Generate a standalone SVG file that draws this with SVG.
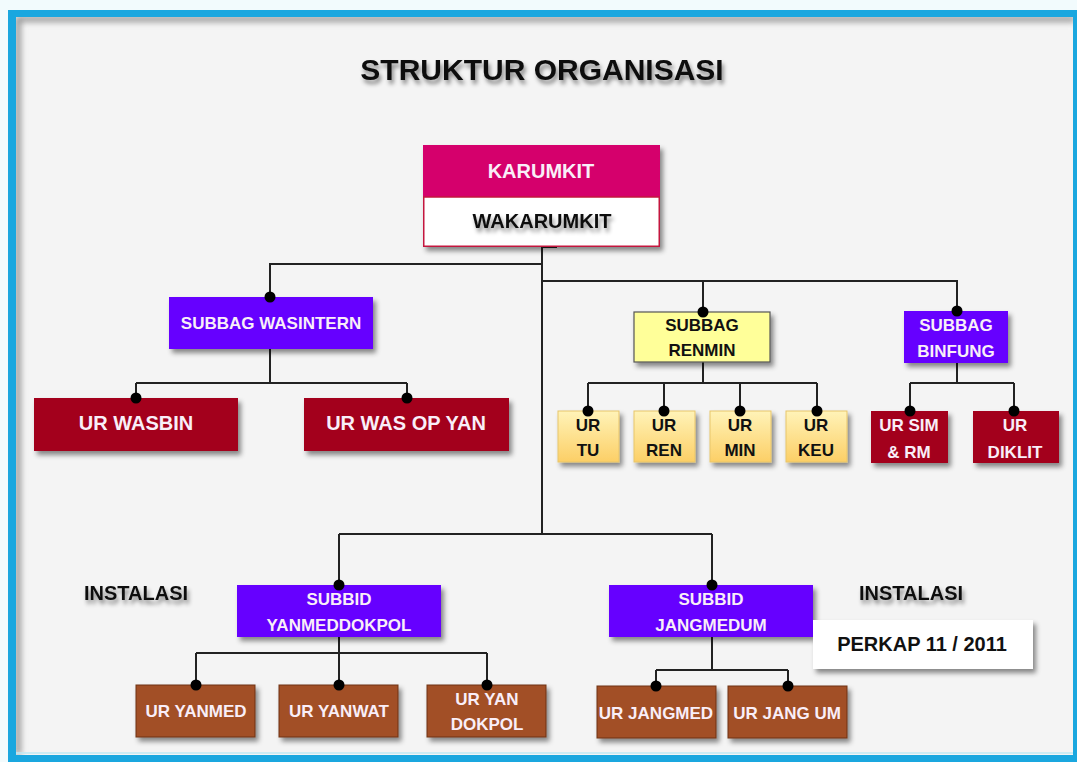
<svg xmlns="http://www.w3.org/2000/svg" width="1077" height="762" viewBox="0 0 1077 762">
<style>
text{font-family:"Liberation Sans",Arial,sans-serif;font-weight:bold;text-anchor:middle}
.w{fill:#f9eef8}
.k{fill:#111}
.purple{fill:#6600ff}
.crim{fill:#a3001f}
.brown{fill:#a24f25;stroke:#6e3416;stroke-width:1}
.ur{fill:url(#gy);stroke:#e8c56a;stroke-width:1}
.conn{stroke:#222;stroke-width:2;fill:none}
.dot{fill:#000}
.f17{font-size:17px}
.f20{font-size:20px}
</style>
<defs>
<filter id="sh" x="-10%" y="-10%" width="130%" height="140%">
<feDropShadow dx="3" dy="4" stdDeviation="2.5" flood-color="#000" flood-opacity="0.45"/>
</filter>
<filter id="ts" x="-10%" y="-30%" width="130%" height="180%">
<feDropShadow dx="2" dy="4" stdDeviation="2" flood-color="#000" flood-opacity="0.45"/>
</filter>
<filter id="ib" x="-5%" y="-5%" width="110%" height="110%">
<feGaussianBlur stdDeviation="3"/>
</filter>
<linearGradient id="gy" x1="0" y1="0" x2="0" y2="1">
<stop offset="0" stop-color="#fff3b8"/>
<stop offset="1" stop-color="#fccf66"/>
</linearGradient>
<clipPath id="inner"><rect x="16" y="17" width="1057" height="738"/></clipPath>
</defs>

<rect x="0" y="0" width="1077" height="762" fill="#f2fbfd"/>
<rect x="8" y="10" width="1069" height="752" fill="#1aa7df"/>
<rect x="16" y="17" width="1057" height="738" fill="#f4f4f4"/>
<g clip-path="url(#inner)">
<path d="M18,755 V19 H1075" stroke="#888" stroke-width="5" fill="none" filter="url(#ib)"/>
</g>
<line x1="16" y1="753" x2="1073" y2="753" stroke="#bfeaf5" stroke-width="1.5"/>

<text x="542" y="80" font-size="30" class="k" filter="url(#ts)">STRUKTUR ORGANISASI</text>

<g id="connectors">
<path class="conn" d="M542,247 V534"/>
<path class="conn" d="M542,247 H557"/>
<path class="conn" d="M542,264 H270 V297"/>
<path class="conn" d="M542,281 H957 V311 M703,281 V312"/>
<path class="conn" d="M270,349 V383 M136,383 H407 M136,383 V398 M407,383 V398"/>
<path class="conn" d="M703,362 V383 M588,383 H817 M588,383 V411 M664,383 V411 M740,383 V411 M817,383 V411"/>
<path class="conn" d="M957,363 V383 M910,383 H1014 M910,383 V411 M1014,383 V411"/>
<path class="conn" d="M339,534 H712 M339,534 V585 M712,534 V585"/>
<path class="conn" d="M339,637 V685 M196,653 H487 M196,653 V685 M487,653 V685"/>
<path class="conn" d="M712,637 V670 M656,670 H788 M656,670 V686 M788,670 V686"/>
</g>

<g id="karumkit">
<rect x="423" y="145" width="237" height="102" fill="#fff" filter="url(#sh)"/>
<rect x="423" y="145" width="237" height="52" fill="#d5006c"/>
<rect x="423.75" y="197" width="235.5" height="49.25" fill="#fff" stroke="#c4163e" stroke-width="1.5"/>
<text x="541" y="178" class="w f20">KARUMKIT</text>
</g>
<g id="wakarumkit">
<text x="542" y="228" class="k f20" filter="url(#ts)">WAKARUMKIT</text>
</g>

<g id="subbag-wasintern">
<rect x="169" y="297" width="204" height="52" class="purple" filter="url(#sh)"/>
<text x="271" y="329" class="w f17">SUBBAG WASINTERN</text>
</g>
<g id="ur-wasbin">
<rect x="34" y="398" width="204" height="53" class="crim" filter="url(#sh)"/>
<text x="136" y="430" class="w f20">UR WASBIN</text>
</g>
<g id="ur-wasopyan">
<rect x="304" y="398" width="205" height="53" class="crim" filter="url(#sh)"/>
<text x="406" y="430" class="w f20">UR WAS OP YAN</text>
</g>

<g id="subbag-renmin">
<rect x="634" y="312" width="136" height="50" fill="#ffff99" stroke="#555" stroke-width="1.2" filter="url(#sh)"/>
<text x="702" y="331" class="k f17">SUBBAG</text>
<text x="702" y="356" class="k f17">RENMIN</text>
</g>
<g id="subbag-binfung">
<rect x="904" y="311" width="104" height="52" class="purple" filter="url(#sh)"/>
<text x="956" y="331" class="w f17">SUBBAG</text>
<text x="956" y="357" class="w f17">BINFUNG</text>
</g>

<g id="ur-tu">
<rect x="558" y="411" width="61" height="51" class="ur" filter="url(#sh)"/>
<text x="588" y="431" class="k f17">UR</text><text x="588" y="456" class="k f17">TU</text>
</g>
<g id="ur-ren">
<rect x="634" y="411" width="61" height="51" class="ur" filter="url(#sh)"/>
<text x="664" y="431" class="k f17">UR</text><text x="664" y="456" class="k f17">REN</text>
</g>
<g id="ur-min">
<rect x="710" y="411" width="61" height="51" class="ur" filter="url(#sh)"/>
<text x="740" y="431" class="k f17">UR</text><text x="740" y="456" class="k f17">MIN</text>
</g>
<g id="ur-keu">
<rect x="786" y="411" width="61" height="51" class="ur" filter="url(#sh)"/>
<text x="816" y="431" class="k f17">UR</text><text x="816" y="456" class="k f17">KEU</text>
</g>

<g id="ur-simrm">
<rect x="871" y="411" width="77" height="52" class="crim" filter="url(#sh)"/>
<text x="909" y="431" class="w f17">UR SIM</text><text x="909" y="458" class="w f17">&amp; RM</text>
</g>
<g id="ur-diklit">
<rect x="973" y="411" width="86" height="52" class="crim" filter="url(#sh)"/>
<text x="1015" y="431" class="w f17">UR</text><text x="1015" y="458" class="w f17">DIKLIT</text>
</g>

<g id="instalasi-left">
<text x="136" y="600" class="k f20" filter="url(#ts)">INSTALASI</text>
</g>
<g id="instalasi-right">
<text x="911" y="600" class="k f20" filter="url(#ts)">INSTALASI</text>
</g>

<g id="subbid-yanmeddokpol">
<rect x="237" y="585" width="204" height="52" class="purple" filter="url(#sh)"/>
<text x="339" y="605" class="w f17">SUBBID</text><text x="339" y="631" class="w f17">YANMEDDOKPOL</text>
</g>
<g id="subbid-jangmedum">
<rect x="609" y="585" width="204" height="52" class="purple" filter="url(#sh)"/>
<text x="711" y="605" class="w f17">SUBBID</text><text x="711" y="631" class="w f17">JANGMEDUM</text>
</g>
<g id="perkap">
<rect x="813" y="620" width="220" height="49" fill="#fff" filter="url(#sh)"/>
<text x="922" y="651" class="k f20">PERKAP 11 / 2011</text>
</g>

<g id="ur-yanmed">
<rect x="136" y="685" width="119" height="52" class="brown" filter="url(#sh)"/>
<text x="196" y="717" class="w f17">UR YANMED</text>
</g>
<g id="ur-yanwat">
<rect x="279" y="685" width="119" height="52" class="brown" filter="url(#sh)"/>
<text x="339" y="717" class="w f17">UR YANWAT</text>
</g>
<g id="ur-yandokpol">
<rect x="427" y="685" width="119" height="52" class="brown" filter="url(#sh)"/>
<text x="487" y="705" class="w f17">UR YAN</text><text x="487" y="730" class="w f17">DOKPOL</text>
</g>
<g id="ur-jangmed">
<rect x="597" y="686" width="119" height="52" class="brown" filter="url(#sh)"/>
<text x="656" y="719" class="w f17">UR JANGMED</text>
</g>
<g id="ur-jangum">
<rect x="728" y="686" width="119" height="52" class="brown" filter="url(#sh)"/>
<text x="787" y="719" class="w f17">UR JANG UM</text>
</g>

<g id="dots">
<circle class="dot" cx="270" cy="297" r="5.5"/>
<circle class="dot" cx="703" cy="312" r="5.5"/>
<circle class="dot" cx="957" cy="311" r="5.5"/>
<circle class="dot" cx="136" cy="398" r="5.5"/>
<circle class="dot" cx="407" cy="398" r="5.5"/>
<circle class="dot" cx="588" cy="411" r="5.5"/>
<circle class="dot" cx="664" cy="411" r="5.5"/>
<circle class="dot" cx="740" cy="411" r="5.5"/>
<circle class="dot" cx="817" cy="411" r="5.5"/>
<circle class="dot" cx="910" cy="411" r="5.5"/>
<circle class="dot" cx="1014" cy="411" r="5.5"/>
<circle class="dot" cx="339" cy="585" r="5.5"/>
<circle class="dot" cx="712" cy="585" r="5.5"/>
<circle class="dot" cx="196" cy="685" r="5.5"/>
<circle class="dot" cx="339" cy="685" r="5.5"/>
<circle class="dot" cx="487" cy="685" r="5.5"/>
<circle class="dot" cx="656" cy="686" r="5.5"/>
<circle class="dot" cx="788" cy="686" r="5.5"/>
</g>
</svg>
